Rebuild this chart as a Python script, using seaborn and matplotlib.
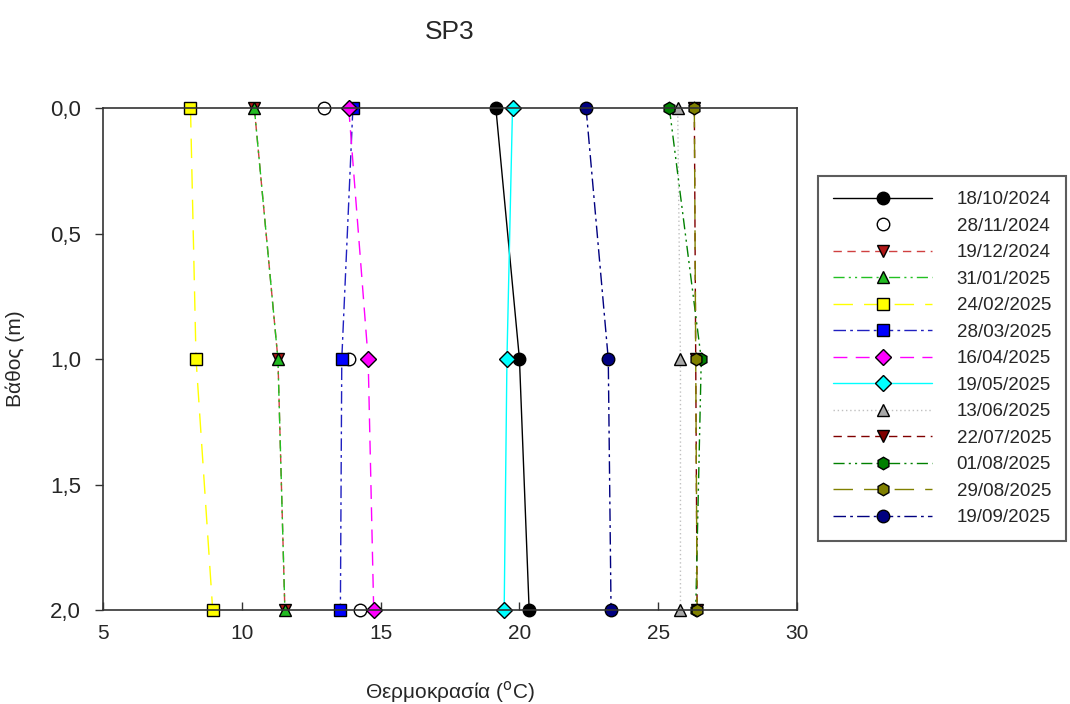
import matplotlib
matplotlib.use('Agg')
import matplotlib.pyplot as plt
import pandas as pd
import seaborn as sns

# Depths (m) and temperature profiles (°C)
depths = [0.0, 1.0, 2.0]
dates = ['18/10/2024', '28/11/2024', '19/12/2024', '31/01/2025', '24/02/2025',
         '28/03/2025', '16/04/2025', '19/05/2025', '13/06/2025', '22/07/2025',
         '01/08/2025', '29/08/2025', '19/09/2025']
t_18_10_2024 = [19.15, 20.0, 20.35]
t_28_11_2024 = [12.95, 13.85, 14.25]
t_19_12_2024 = [10.45, 11.3, 11.55]
t_31_01_2025 = [10.45, 11.3, 11.55]
t_24_02_2025 = [8.15, 8.35, 8.95]
t_28_03_2025 = [14.0, 13.6, 13.55]
t_16_04_2025 = [13.85, 14.55, 14.75]
t_19_05_2025 = [19.75, 19.55, 19.45]
t_13_06_2025 = [25.7, 25.8, 25.8]
t_22_07_2025 = [26.3, 26.35, 26.4]
t_01_08_2025 = [25.4, 26.55, 26.35]
t_29_08_2025 = [26.3, 26.35, 26.4]
t_19_09_2025 = [22.4, 23.2, 23.3]
temps = [t_18_10_2024, t_28_11_2024, t_19_12_2024, t_31_01_2025, t_24_02_2025,
         t_28_03_2025, t_16_04_2025, t_19_05_2025, t_13_06_2025, t_22_07_2025,
         t_01_08_2025, t_29_08_2025, t_19_09_2025]

x_ticks = [5, 10, 15, 20, 25, 30]
y_ticks = [0.0, 0.5, 1.0, 1.5, 2.0]
y_tick_labels = ['0,0', '0,5', '1,0', '1,5', '2,0']

# SigmaPlot-like styles: (line colour, marker, marker face, dash pattern)
styles = [
    ('black', 'o', 'black', None),
    ('black', 'o', 'white', 'none'),
    ('#d04040', 'v', '#b01818', (6, 4)),
    ('#22c022', '^', '#22bb22', (8, 3, 1.5, 3, 1.5, 3)),
    ('#ffff00', 's', '#ffff00', (14, 8)),
    ('#2020c0', 's', '#0000ff', (9, 3, 2, 3)),
    ('#ff00ff', 'D', '#ff00ff', (10, 6)),
    ('#00ffff', 'D', '#00ffff', None),
    ('#c0c0c0', '^', '#a8a8a8', (1, 2)),
    ('#800000', 'v', '#800000', (6, 4)),
    ('#008000', 'h', '#008000', (8, 3, 1.5, 3, 1.5, 3)),
    ('#808000', 'h', '#808000', (14, 8)),
    ('#000080', 'o', '#000080', (9, 3, 2, 3)),
]

sns.set_style('white')
plt.rcParams['font.family'] = ['Liberation Sans', 'DejaVu Sans']

fig = plt.figure(figsize=(10.7, 7.04), dpi=100)
ax = fig.add_axes([0.0963, 0.1335, 0.6486, 0.713])

for date, temp, (lc, mk, mfc, dash) in zip(dates, temps, styles):
    df = pd.DataFrame({'temp': temp, 'depth': depths})
    kws = dict(color=lc, marker=mk, markerfacecolor=mfc, markeredgecolor='black',
               markeredgewidth=1.0, markersize=9 if mk not in ('D', 's') else 8,
               linewidth=1.0, clip_on=False, label=date)
    if dash == 'none':
        kws['linestyle'] = 'none'
    elif dash is not None:
        kws['dashes'] = dash
    sns.lineplot(data=df, x='temp', y='depth', sort=False, estimator=None,
                 ax=ax, legend=False, **kws)

ax.set_xlim(5, 30)
ax.set_ylim(2.0, 0.0)
ax.set_xticks(x_ticks)
ax.set_yticks(y_ticks)
ax.set_yticklabels(y_tick_labels)
ax.tick_params(axis='x', direction='in', length=6, width=1, labelsize=15, pad=10, color='#333333')
ax.tick_params(axis='y', direction='out', length=6, width=1, labelsize=16, pad=10, color='#333333')
ax.tick_params(left=True, bottom=True)
for s in ax.spines.values():
    s.set_color('#333333')
    s.set_linewidth(1.2)

ax.set_xlabel('Θερμοκρασία ($^{\\mathrm{o}}$C)', fontsize=15, labelpad=26)
ax.set_ylabel('Βάθος (m)', fontsize=15, labelpad=18)
ax.set_title('SP3', fontsize=19, pad=50)

leg = ax.legend(loc='upper left', bbox_to_anchor=(1.03, 0.864), fontsize=13.5,
                handlelength=5.3, handletextpad=1.3, labelspacing=0.5,
                borderpad=0.8, frameon=True, fancybox=False, shadow=False,
                borderaxespad=0)
leg.get_frame().set_edgecolor('#333333')
leg.get_frame().set_linewidth(1.5)

fig.savefig('out.png', dpi=100)
